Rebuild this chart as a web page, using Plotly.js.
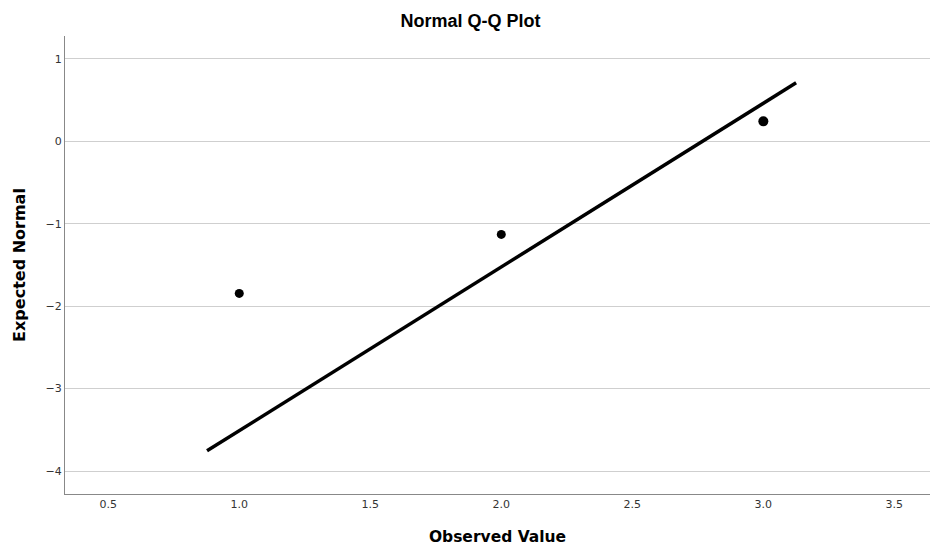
<!DOCTYPE html>
<html>
<head>
<meta charset="utf-8">
<script src="https://cdn.plot.ly/plotly-3.0.1.min.js"></script>
<style>html,body{margin:0;padding:0;background:#fff;}#chart{width:930px;height:546px;}</style>
</head>
<body>
<div id="chart"></div>
<script>
const observedValues = [1.0, 2.0, 3.0];
const expectedNormal = [-1.845, -1.129, 0.243];
const lineX = [0.877, 3.125];
const lineY = [-3.755, 0.711];
const xTickVals = [0.5, 1.0, 1.5, 2.0, 2.5, 3.0, 3.5];
const xTickText = ["0.5", "1.0", "1.5", "2.0", "2.5", "3.0", "3.5"];
const yTickVals = [-4, -3, -2, -1, 0, 1];

const sansFam = "DejaVu Sans, Verdana, sans-serif";
const titleFam = "Liberation Sans, Arial, Helvetica, sans-serif";

const traces = [
  {
    x: lineX, y: lineY, type: "scatter", mode: "lines",
    line: {color: "#000000", width: 3.5}, hoverinfo: "skip", showlegend: false
  },
  {
    x: observedValues, y: expectedNormal, type: "scatter", mode: "markers",
    opacity: 1,
    marker: {color: "#000000", opacity: 1, size: [9, 9, 10], line: {width: 0, color: "#000000"}},
    showlegend: false
  }
];

const layout = {
  width: 930, height: 546,
  margin: {l: 65, r: 0, t: 36, b: 52},
  paper_bgcolor: "#fff", plot_bgcolor: "#fff",
  font: {family: sansFam, color: "#222"},
  title: {
    text: "<b>Normal Q-Q Plot</b>",
    font: {size: 18, color: "#000", family: titleFam},
    x: 0.506, xref: "container", y: 0.963, yref: "container", yanchor: "middle"
  },
  xaxis: {
    range: [0.335, 3.636],
    tickvals: xTickVals, ticktext: xTickText,
    showgrid: false, zeroline: false,
    showline: true, linecolor: "#888", linewidth: 1,
    ticks: "", ticklen: 0,
    tickfont: {size: 11, color: "#333", family: sansFam},
    automargin: false,
    title: {text: "<b>Observed Value</b>", font: {size: 15.5, color: "#000", family: sansFam}, standoff: 26}
  },
  yaxis: {
    range: [-4.279, 1.279],
    tickvals: yTickVals,
    showgrid: true, gridcolor: "#cfcfcf", gridwidth: 1,
    zeroline: false,
    showline: true, linecolor: "#888", linewidth: 1,
    ticks: "", ticklen: 0,
    tickfont: {size: 11, color: "#333", family: sansFam},
    automargin: false,
    title: {text: "<b>Expected Normal</b>", font: {size: 16, color: "#000", family: sansFam}, standoff: 15}
  }
};

Plotly.newPlot("chart", traces, layout, {displayModeBar: false, staticPlot: true});
</script>
</body>
</html>
